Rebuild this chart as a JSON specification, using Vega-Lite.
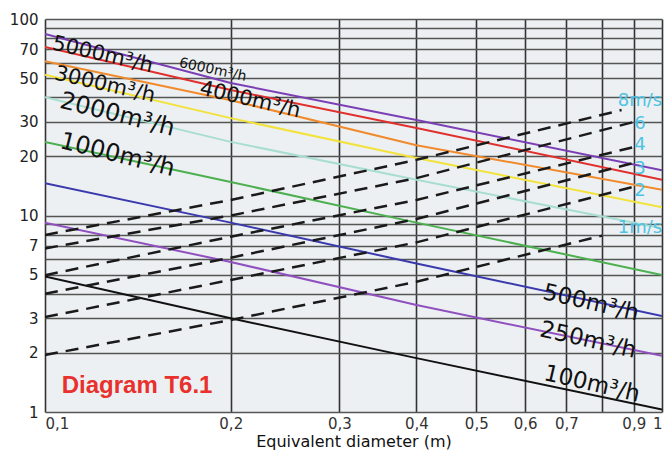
{
  "$schema": "https://vega.github.io/schema/vega-lite/v6.json",
  "width": 617,
  "height": 393,
  "autosize": {"type": "none"},
  "padding": {"left": 45, "top": 19, "right": 5, "bottom": 42},
  "config": {
    "view": {"fill": "#edf0f2", "stroke": null},
    "font": "DejaVu Sans"
  },
  "datasets": {
    "flow": [
      {"q": "6000", "d": 0.1, "loss": 84}, {"q": "6000", "d": 0.2, "loss": 47.2}, {"q": "6000", "d": 0.4, "loss": 30.6}, {"q": "6000", "d": 1, "loss": 17},
      {"q": "5000", "d": 0.1, "loss": 72}, {"q": "5000", "d": 0.2, "loss": 43.5}, {"q": "5000", "d": 0.4, "loss": 27.9}, {"q": "5000", "d": 1, "loss": 15.2},
      {"q": "4000", "d": 0.1, "loss": 61}, {"q": "4000", "d": 0.2, "loss": 38.6}, {"q": "4000", "d": 0.4, "loss": 22.8}, {"q": "4000", "d": 1, "loss": 13.5},
      {"q": "3000", "d": 0.1, "loss": 52}, {"q": "3000", "d": 0.2, "loss": 31.3}, {"q": "3000", "d": 0.4, "loss": 19.6}, {"q": "3000", "d": 1, "loss": 11.0},
      {"q": "2000", "d": 0.1, "loss": 40}, {"q": "2000", "d": 0.2, "loss": 23.7}, {"q": "2000", "d": 0.4, "loss": 15.2}, {"q": "2000", "d": 1, "loss": 8.6},
      {"q": "1000", "d": 0.1, "loss": 23.7}, {"q": "1000", "d": 0.2, "loss": 14.8}, {"q": "1000", "d": 0.4, "loss": 9.2}, {"q": "1000", "d": 1, "loss": 4.98},
      {"q": "500", "d": 0.1, "loss": 14.6}, {"q": "500", "d": 0.2, "loss": 9.2}, {"q": "500", "d": 0.4, "loss": 5.7}, {"q": "500", "d": 1, "loss": 3.08},
      {"q": "250", "d": 0.1, "loss": 9.2}, {"q": "250", "d": 0.2, "loss": 5.8}, {"q": "250", "d": 0.4, "loss": 3.5}, {"q": "250", "d": 1, "loss": 1.93},
      {"q": "100", "d": 0.1, "loss": 4.9}, {"q": "100", "d": 0.2, "loss": 3.0}, {"q": "100", "d": 0.4, "loss": 1.88}, {"q": "100", "d": 1, "loss": 1.03}
    ],
    "vel": [
      {"v": "1", "d": 0.1, "loss": 1.95}, {"v": "1", "d": 0.2, "loss": 2.94}, {"v": "1", "d": 0.4, "loss": 4.6}, {"v": "1", "d": 0.8, "loss": 7.9},
      {"v": "2", "d": 0.1, "loss": 3.04}, {"v": "2", "d": 0.2, "loss": 4.7}, {"v": "2", "d": 0.4, "loss": 7.3}, {"v": "2", "d": 0.9, "loss": 14.0},
      {"v": "3", "d": 0.1, "loss": 4.0}, {"v": "3", "d": 0.2, "loss": 6.1}, {"v": "3", "d": 0.4, "loss": 9.6}, {"v": "3", "d": 0.9, "loss": 18.5},
      {"v": "4", "d": 0.1, "loss": 4.97}, {"v": "4", "d": 0.2, "loss": 7.8}, {"v": "4", "d": 0.4, "loss": 12.0}, {"v": "4", "d": 0.9, "loss": 22.3},
      {"v": "6", "d": 0.1, "loss": 6.8}, {"v": "6", "d": 0.2, "loss": 10.0}, {"v": "6", "d": 0.4, "loss": 15.5}, {"v": "6", "d": 0.9, "loss": 29.9},
      {"v": "8", "d": 0.1, "loss": 7.96}, {"v": "8", "d": 0.2, "loss": 12.0}, {"v": "8", "d": 0.4, "loss": 19.2}, {"v": "8", "d": 0.86, "loss": 34.4}
    ],
    "bigLab": [
      {"t": "2000m³/h", "d": 0.131, "loss": 32.5},
      {"t": "1000m³/h", "d": 0.131, "loss": 20.3}
    ],
    "midLab": [
      {"t": "5000m³/h", "d": 0.124, "loss": 65.6},
      {"t": "3000m³/h", "d": 0.125, "loss": 46.2},
      {"t": "4000m³/h", "d": 0.215, "loss": 38.7}
    ],
    "lowLab": [
      {"t": "500m³/h", "d": 0.767, "loss": 3.59},
      {"t": "250m³/h", "d": 0.759, "loss": 2.32},
      {"t": "100m³/h", "d": 0.77, "loss": 1.39}
    ],
    "smallLab": [
      {"t": "6000m³/h", "d": 0.187, "loss": 55}
    ],
    "velLab": [
      {"t": "8m/s", "d": 0.921, "loss": 38.3},
      {"t": "6", "d": 0.921, "loss": 29.2},
      {"t": "4", "d": 0.921, "loss": 22.9},
      {"t": "3", "d": 0.921, "loss": 17.3},
      {"t": "2", "d": 0.921, "loss": 13.3},
      {"t": "1m/s", "d": 0.921, "loss": 8.65}
    ],
    "note": [
      {"t": "Diagram T6.1", "d": 0.141, "loss": 1.36}
    ]
  },
  "layer": [
    {
      "data": {"name": "flow"},
      "mark": {"type": "line", "clip": true},
      "encoding": {
        "x": {
          "field": "d", "type": "quantitative",
          "scale": {"type": "log", "domain": [0.1, 1], "nice": false},
          "axis": {
            "values": [0.1, 0.2, 0.3, 0.4, 0.5, 0.6, 0.7, 0.8, 0.9, 1],
            "grid": true, "gridColor": "#333333", "gridWidth": 1.6,
            "ticks": false, "domain": false,
            "labelExpr": "datum.value == 0.8 ? '' : replace(format(datum.value, '.1~f'), '.', ',')",
            "labelFontSize": 15, "labelColor": "#333333", "labelPadding": 4, "labelFlush": true,
            "title": "Equivalent diameter (m)", "titleFontSize": 16, "titleFontWeight": "normal",
            "titleColor": "#111111", "titlePadding": 2
          }
        },
        "y": {
          "field": "loss", "type": "quantitative",
          "scale": {"type": "log", "domain": [1, 100], "nice": false},
          "axis": {
            "values": [1, 2, 3, 4, 5, 6, 7, 8, 9, 10, 20, 30, 40, 50, 60, 70, 80, 90, 100],
            "grid": true, "gridColor": "#555555", "gridWidth": 1.6,
            "ticks": false, "domain": false,
            "labelExpr": "indexof([1, 2, 3, 5, 7, 10, 20, 30, 50, 70, 100], datum.value) >= 0 ? datum.label : ''",
            "labelFontSize": 15, "labelColor": "#222222", "labelPadding": 7,
            "title": null
          }
        },
        "color": {
          "field": "q", "type": "nominal", "legend": null,
          "scale": {
            "domain": ["6000", "5000", "4000", "3000", "2000", "1000", "500", "250", "100"],
            "range": ["#7b3fb5", "#e0302e", "#f08a2c", "#f2e23c", "#a8ded2", "#4cb050", "#3a3aae", "#9050c0", "#111111"]
          }
        },
        "strokeWidth": {
          "field": "q", "type": "ordinal", "legend": null,
          "scale": {
            "domain": ["6000", "5000", "4000", "3000", "2000", "1000", "500", "250", "100"],
            "range": [2, 2, 2, 4, 3.5, 2, 2, 2, 2]
          }
        }
      }
    },
    {
      "data": {"name": "vel"},
      "mark": {"type": "line", "color": "#1a1a1a", "strokeDash": [13, 8], "strokeWidth": 2.5, "clip": true},
      "encoding": {
        "x": {"field": "d", "type": "quantitative"},
        "y": {"field": "loss", "type": "quantitative"},
        "detail": {"field": "v", "type": "nominal"}
      }
    },
    {
      "data": {"name": "bigLab"},
      "mark": {"type": "text", "angle": 14, "fontSize": 24, "color": "#111111", "align": "center", "baseline": "middle"},
      "encoding": {
        "x": {"field": "d", "type": "quantitative"},
        "y": {"field": "loss", "type": "quantitative"},
        "text": {"field": "t"}
      }
    },
    {
      "data": {"name": "midLab"},
      "mark": {"type": "text", "angle": 13, "fontSize": 21, "color": "#111111", "align": "center", "baseline": "middle"},
      "encoding": {
        "x": {"field": "d", "type": "quantitative"},
        "y": {"field": "loss", "type": "quantitative"},
        "text": {"field": "t"}
      }
    },
    {
      "data": {"name": "lowLab"},
      "mark": {"type": "text", "angle": 13, "fontSize": 23, "color": "#111111", "align": "center", "baseline": "middle"},
      "encoding": {
        "x": {"field": "d", "type": "quantitative"},
        "y": {"field": "loss", "type": "quantitative"},
        "text": {"field": "t"}
      }
    },
    {
      "data": {"name": "smallLab"},
      "mark": {"type": "text", "angle": 12, "fontSize": 14, "color": "#111111", "align": "center", "baseline": "middle"},
      "encoding": {
        "x": {"field": "d", "type": "quantitative"},
        "y": {"field": "loss", "type": "quantitative"},
        "text": {"field": "t"}
      }
    },
    {
      "data": {"name": "velLab"},
      "mark": {"type": "text", "fontSize": 18, "color": "#4dc3e3", "align": "center", "baseline": "middle"},
      "encoding": {
        "x": {"field": "d", "type": "quantitative"},
        "y": {"field": "loss", "type": "quantitative"},
        "text": {"field": "t"}
      }
    },
    {
      "data": {"name": "note"},
      "mark": {"type": "text", "fontSize": 24, "fontWeight": "bold", "font": "Liberation Sans", "color": "#e8302c", "align": "center", "baseline": "middle"},
      "encoding": {
        "x": {"field": "d", "type": "quantitative"},
        "y": {"field": "loss", "type": "quantitative"},
        "text": {"field": "t"}
      }
    }
  ]
}
